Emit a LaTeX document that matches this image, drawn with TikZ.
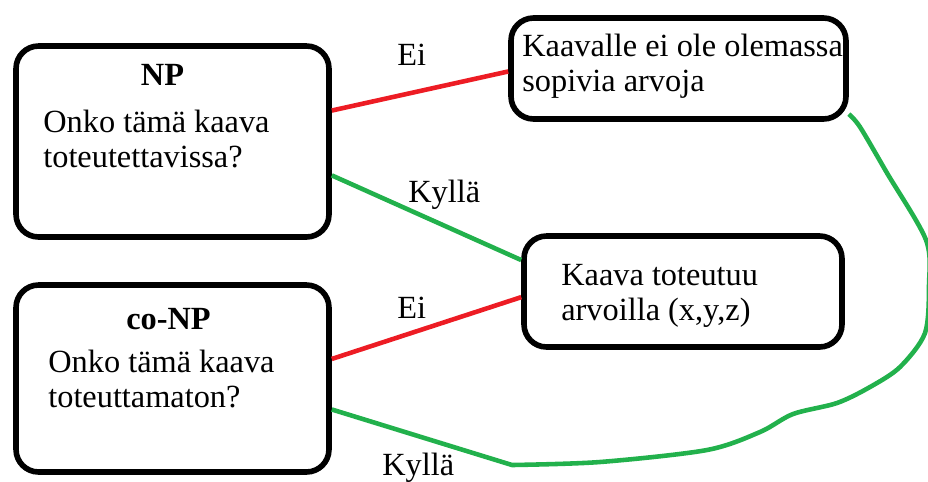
\documentclass[tikz,border=0pt]{standalone}
\usepackage{fontspec}
\setmainfont{Liberation Serif}
\definecolor{noRed}{RGB}{237,28,36}
\definecolor{yesGreen}{RGB}{34,177,76}
\tikzset{
  box/.style={draw, line width=3.2pt, rounded corners=0.45cm, inner sep=0pt},
  no/.style={draw=noRed, line width=2.6pt},
  yes/.style={draw=yesGreen, line width=2.6pt},
  txt/.style={anchor=base west, inner sep=0pt, align=left, font=\fontsize{18.4}{19.9}\selectfont},
  title/.style={anchor=base, inner sep=0pt, font=\fontsize{18.4}{19.9}\selectfont\bfseries},
}
\begin{document}
\begin{tikzpicture}[x=0.02cm, y=-0.02cm]
    \useasboundingbox (0,0) rectangle (928,481);
    \node[box, minimum width=6.26cm, minimum height=3.82cm] (NP) at (172.5,141.5) {};
    \node[box, minimum width=6.26cm, minimum height=3.74cm] (coNP) at (172.5,378.5) {};
    \node[box, minimum width=6.7cm, minimum height=2.02cm] (Nosol) at (678.5,68.5) {};
    \node[box, minimum width=6.36cm, minimum height=2.22cm] (Sol) at (683,291.5) {};
    \node[title] (NPt) at (162.5,85) {NP};
    \node[txt] (NPq) at (43,167) {Onko tämä kaava\\toteutettavissa?};
    \node[title] (coNPt) at (168.5,329) {co-NP};
    \node[txt] (coNPq) at (48,407) {Onko tämä kaava\\toteuttamaton?};
    \node[txt] (Nosolt) at (522,91) {Kaavalle ei ole olemassa\\sopivia arvoja};
    \node[txt] (Solt) at (561,320) {Kaava toteutuu\\arvoilla (x,y,z)};
    \node[txt] (Ei1) at (397,65) {Ei};
    \node[txt] (Kylla1) at (408,202) {Kyllä};
    \node[txt] (Ei2) at (397,318) {Ei};
    \node[txt] (Kylla2) at (382,475) {Kyllä};
    \draw[no] (NP.11.4) -- (Nosol.181);
    \draw[yes] (NP.-12.8) -- (Sol.169.5);
    \draw[no] (coNP.7.5) -- (Sol.182);
    \draw[yes] (coNP.-11.4) -- plot[smooth] coordinates {(512,465) (600,462) (707,450) (760,432) (793,414) (837,403) (870,387) (900,367) (925,333) (929,285) (926,240) (887,173) (860,127) (Nosol.-15)};
\end{tikzpicture}
\end{document}
